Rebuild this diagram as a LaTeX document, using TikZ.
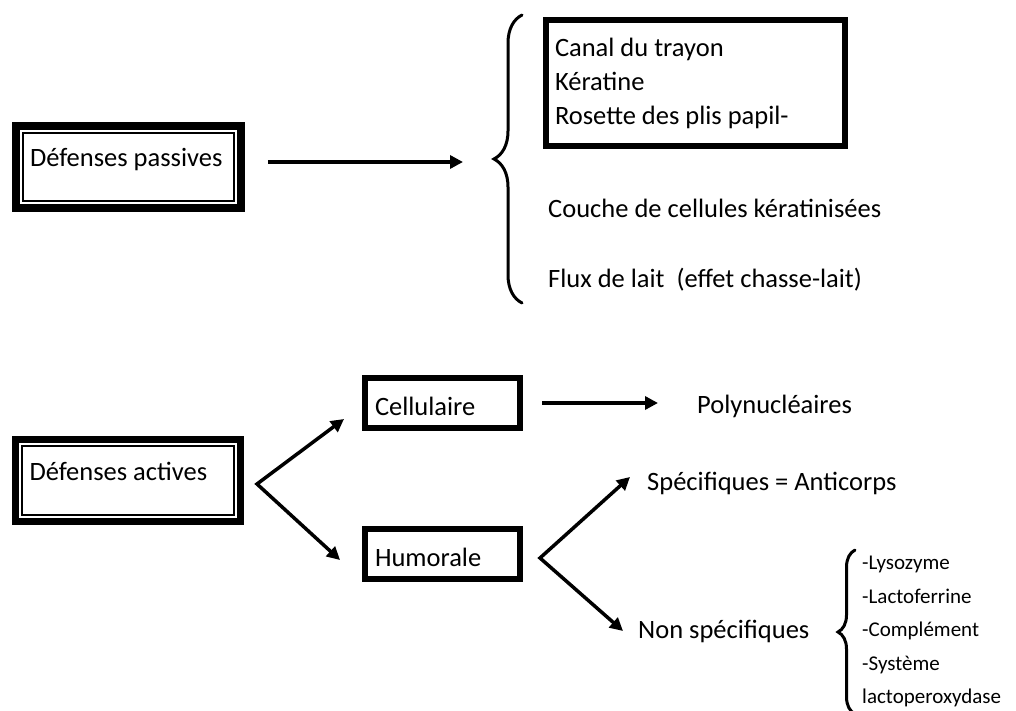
\documentclass[tikz,border=0pt]{standalone}
\usepackage{fontspec}
\setmainfont{Carlito}
\usetikzlibrary{arrows.meta,decorations.pathreplacing}
\tikzset{
	dblbox/.style={draw,line width=7.5pt,inner xsep=14pt,text width=197pt,align=flush left,minimum height=82pt,text height=20pt,text depth=20pt},
	smallbox/.style={draw,line width=6pt,inner xsep=10pt,text width=135pt,align=flush left,minimum height=50pt,text height=26pt,text depth=2pt},
	listbox/.style={draw,line width=6pt,inner xsep=9pt,text width=281pt,align=flush left,minimum height=126pt},
	txt/.style={inner sep=0pt,anchor=base west},
	arr/.style={line width=3.5pt,-{Triangle[length=13pt,width=13pt]}},
	arrtwo/.style={line width=3.5pt,{Triangle[length=13pt,width=13pt]}-{Triangle[length=13pt,width=13pt]}},
	accolade/.style={decorate,line width=3pt,line cap=round,decoration={brace,amplitude=#1}}
}
\begin{document}
\begin{tikzpicture}[x=1pt,y=-1pt,font=\fontsize{26.5pt}{34pt}\selectfont]
	\fill[white] (0,0) rectangle (1016,711);
	\useasboundingbox (0,0) rectangle (1016,711);
		\node[dblbox] (passive) at (128.5,167) {Défenses passives};
		\draw[line width=1.8pt] ([shift={(10.4,10.4)}]passive.north west) rectangle ([shift={(-10.4,-10.4)}]passive.south east);
		\node[listbox] (trayon) at (695.5,83) {Canal du trayon\\Kératine\\Rosette des plis papil-};
		\node[txt] (couche) at (548,218) {Couche de cellules kératinisées};
		\node[txt] (flux) at (548,287) {Flux de lait\ \ (effet chasse-lait)};
		\draw[accolade=28pt] (522,303) -- (522,15);
		\coordinate (tipA) at (493,162);
		\draw[arr,shorten <=23pt,shorten >=30pt] (passive.east |- tipA) -- (tipA);

		\node[dblbox] (act) at (128,480.5) {Défenses actives};
		\draw[line width=1.8pt] ([shift={(10.4,10.4)}]act.north west) rectangle ([shift={(-10.4,-10.4)}]act.south east);
		\node[smallbox] (cell) at (442.5,403) {Cellulaire};
		\node[smallbox] (hum) at (442.5,554) {Humorale};
		\coordinate (actfork) at (257,484);
		\draw[arrtwo] ([shift={(-18,-12)}]cell.south west) -- (actfork) -- ([shift={(-22,6)}]hum.west);
		\node[txt] (poly) at (697,413) {Polynucléaires};
		\draw[arr,shorten <=19pt,shorten >=39pt] (cell.east) -- (cell.east -| poly.west);
		\node[txt] (spec) at (647,490) {Spécifiques = Anticorps};
		\node[txt] (nonspec) at (638,638) {Non spécifiques};
		\coordinate (humfork) at (540,558);
		\draw[arrtwo] ([shift={(-17,-6)}]spec.west) -- (humfork) -- ([xshift=-15pt]nonspec.west);
		\draw[accolade=17pt] (855,714) -- (855,550);
		\node[inner sep=0pt,anchor=north west,text width=154pt,align=flush left,font=\fontsize{21pt}{33.5pt}\selectfont] (liste) at (862,556) {-Lysozyme\\-Lactoferrine\\-Complément\\-Système\\lactoperoxydase};
\end{tikzpicture}
\end{document}
